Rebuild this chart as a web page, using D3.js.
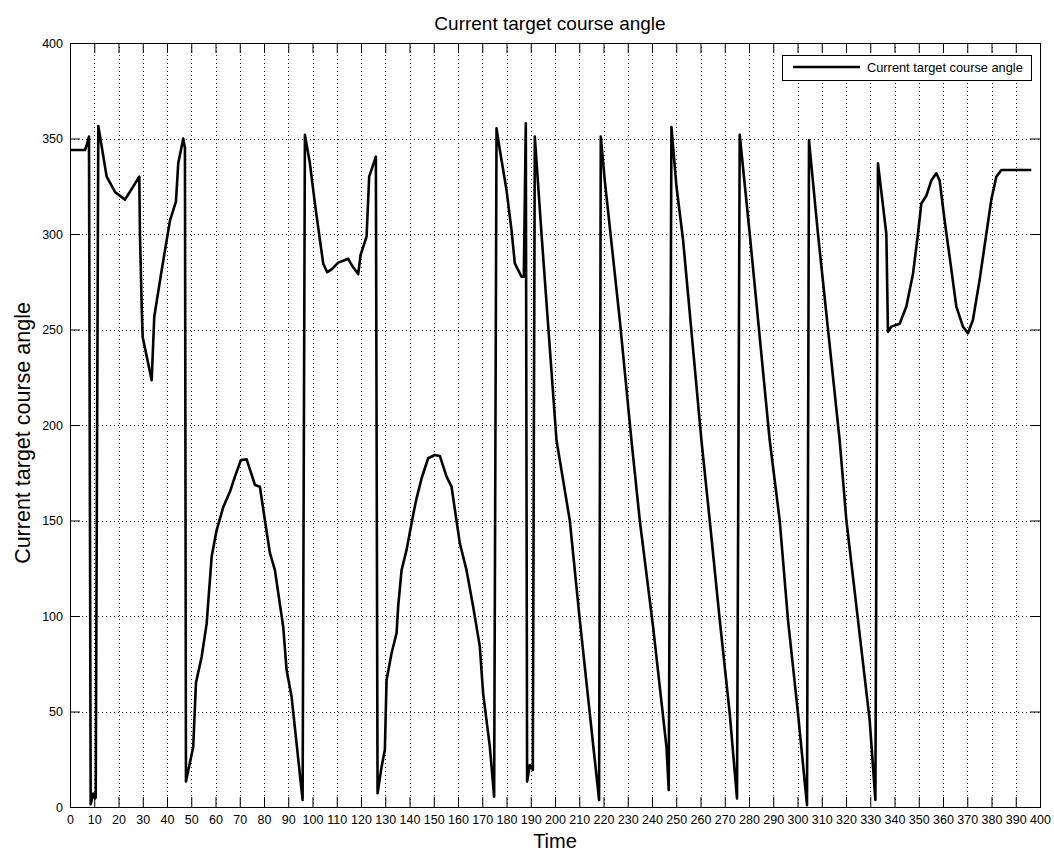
<!DOCTYPE html>
<html>
<head>
<meta charset="utf-8">
<script src="https://cdn.jsdelivr.net/npm/d3@7"></script>
<style>
  html, body { margin: 0; padding: 0; background: #fff; }
  svg { display: block; font-family: Arial, "Liberation Sans", sans-serif; }
</style>
</head>
<body>
<svg id="chart" width="1054" height="856"></svg>
<script>
// Time samples and the target course angle at each sample
const time = [
  0, 6.2, 7.0, 7.83, 8.53, 9.6, 10.3, 10.6, 11.67,
  15.13, 18.55, 22.67, 28.57, 28.85, 29.56, 29.97, 33.68, 34.75, 37.8, 41.22, 43.69, 44.64, 46.7, 47.4, 47.82,
  50.82, 51.94, 54.29, 56.35, 58.41, 60.47, 63.19, 65.95, 68.01, 70.49, 72.84, 76.26, 78.32, 80.38, 82.44, 84.5,
  87.92, 89.32, 91.38, 93.45, 95.92,
  96.87, 98.93, 100.99, 103.05, 104.41, 106.06, 107.87, 110.59, 112.65, 114.72, 116.12, 118.84, 119.83, 122.3, 123.37, 126.13,
  126.83, 128.48, 129.84, 130.54, 132.6, 134.67, 135.33, 136.73, 138.79, 141.51, 142.91, 144.97, 147.69, 150.45, 152.51,
  155.28, 157.34, 160.76, 163.52, 166.24, 169.0, 170.36, 173.12, 174.9,
  175.89, 177.25, 180.01, 182.07, 183.43, 186.19, 187.14, 187.96, 188.5, 189.61, 190.85,
  191.67, 194.44, 200.62, 206.1, 210.22, 214.34, 218.18,
  218.88, 220.53, 226.71, 231.53, 234.96, 240.44, 245.96, 246.91,
  248.02, 250.08, 252.8, 260.39, 263.81, 267.93, 272.05, 275.06,
  276.17, 280.3, 288.54, 292.66, 296.08, 300.21, 303.92,
  304.74, 308.45, 317.39, 320.16, 324.94, 329.76, 332.11,
  333.18, 336.64, 337.3, 338.7, 342.13, 344.89, 347.61, 349.67, 351.07, 353.13, 355.19, 357.25, 358.62,
  360.68, 362.74, 365.5, 368.22, 370.28, 372.34, 375.1, 377.86, 379.93, 381.99, 384.05, 396.41
];
const angle = [
  344, 344, 347, 351, 1.5, 7, 4.5, 5, 356.5,
  330, 322, 318, 330, 300, 262, 246, 223.5, 256.7, 281, 307, 317, 337, 350, 345, 13.3,
  31.6, 65, 78.7, 96, 131, 145, 157, 165, 173, 181.7, 182, 168.6, 167.7, 150, 133, 124,
  94.4, 71.7, 57.7, 33, 3.7,
  352, 337, 316, 297, 284.6, 280, 281.5, 285, 286, 287, 283.8, 279, 289, 298.6, 330, 340.5,
  7.2, 21, 30, 66.5, 80.5, 91, 105, 124, 134.6, 153, 161.6, 172, 182.6, 184.3, 183.8,
  173, 167.7, 138, 124, 105, 84, 59.5, 31.6, 5.4,
  355.3, 344, 323, 302, 284.6, 277.6, 277.6, 358, 13.3, 22, 19.4,
  351, 300, 192, 150, 98, 49, 3.7,
  351, 328, 255, 192, 150, 94.4, 31.6, 8.9,
  356, 325, 297, 192, 150, 98, 49, 4.5,
  352, 300, 192, 150, 98, 49, 1,
  349, 300, 192, 150, 98, 45.5, 3.7,
  337, 300, 248.8, 251.5, 253, 262, 279, 300, 316, 320, 328, 331.8, 328,
  307, 288, 262, 251.5, 248, 255, 276, 300, 318, 330, 333.5, 333.5
];

const xTicks = d3.range(0, 401, 10);
const yTicks = d3.range(0, 401, 50);

const titleText = "Current target course angle";
const xLabelText = "Time";
const yLabelText = "Current target course angle";
const legendText = "Current target course angle";

const svg = d3.select("#chart");
const plot = { left: 70, right: 1040, top: 43, bottom: 807 };
const tickLen = 10;

const x = d3.scaleLinear().domain([0, 400]).range([plot.left, plot.right]);
const y = d3.scaleLinear().domain([0, 400]).range([plot.bottom, plot.top]);

// dotted grid
const grid = svg.append("g").attr("stroke", "#222").attr("stroke-width", 1)
  .attr("stroke-dasharray", "1,3").attr("shape-rendering", "crispEdges");
grid.selectAll("line.gx").data(xTicks.slice(1, -1)).join("line")
  .attr("x1", d => Math.round(x(d)) + 0.5).attr("x2", d => Math.round(x(d)) + 0.5)
  .attr("y1", plot.top).attr("y2", plot.bottom);
grid.selectAll("line.gy").data(yTicks.slice(1, -1)).join("line")
  .attr("y1", d => Math.round(y(d)) + 0.5).attr("y2", d => Math.round(y(d)) + 0.5)
  .attr("x1", plot.left).attr("x2", plot.right);

// axes with inward ticks on all four sides
const bottomAxis = d3.axisBottom(x).tickValues(xTicks).tickSizeInner(-tickLen).tickSizeOuter(0).tickPadding(8);
const topAxis = d3.axisTop(x).tickValues(xTicks).tickSizeInner(-tickLen).tickSizeOuter(0).tickFormat("");
const leftAxis = d3.axisLeft(y).tickValues(yTicks).tickSizeInner(-tickLen).tickSizeOuter(0).tickPadding(7);
const rightAxis = d3.axisRight(y).tickValues(yTicks).tickSizeInner(-tickLen).tickSizeOuter(0).tickFormat("");

function styleAxis(g) {
  g.select(".domain").remove();
  g.selectAll(".tick line").attr("stroke", "#000").attr("stroke-width", 1);
  g.selectAll(".tick text").attr("fill", "#000").attr("font-size", "12.5px")
    .attr("font-family", "Arial, 'Liberation Sans', sans-serif");
}
svg.append("g").attr("transform", `translate(0,${plot.bottom})`).call(bottomAxis).call(styleAxis);
svg.append("g").attr("transform", `translate(0,${plot.top})`).call(topAxis).call(styleAxis);
svg.append("g").attr("transform", `translate(${plot.left},0)`).call(leftAxis).call(styleAxis);
svg.append("g").attr("transform", `translate(${plot.right},0)`).call(rightAxis).call(styleAxis);

// plot frame
svg.append("rect")
  .attr("x", plot.left + 0.5).attr("y", plot.top + 0.5)
  .attr("width", plot.right - plot.left).attr("height", plot.bottom - plot.top)
  .attr("fill", "none").attr("stroke", "#000").attr("stroke-width", 1);

// the course angle trace
const points = time.map((t, i) => [t, angle[i]]);
const line = d3.line().x(d => x(d[0])).y(d => y(d[1]));
svg.append("path").datum(points)
  .attr("d", line)
  .attr("fill", "none").attr("stroke", "#000")
  .attr("stroke-width", 2.6).attr("stroke-linejoin", "round");

// titles
svg.append("text").attr("x", (plot.left + plot.right) / 2 - 5).attr("y", 30)
  .attr("text-anchor", "middle").attr("font-size", "19px").attr("fill", "#000").text(titleText);
svg.append("text").attr("x", (plot.left + plot.right) / 2).attr("y", 848)
  .attr("text-anchor", "middle").attr("font-size", "20px").attr("fill", "#000").text(xLabelText);
svg.append("text").attr("transform", `translate(30,${(plot.top + plot.bottom) / 2 + 8}) rotate(-90)`)
  .attr("text-anchor", "middle").attr("font-size", "21.5px").attr("fill", "#000").text(yLabelText);

// legend
const lg = svg.append("g");
lg.append("rect").attr("x", 782.5).attr("y", 55.5).attr("width", 249).attr("height", 25)
  .attr("fill", "#fff").attr("stroke", "#000").attr("stroke-width", 1);
lg.append("line").attr("x1", 793).attr("x2", 860).attr("y1", 67).attr("y2", 67)
  .attr("stroke", "#000").attr("stroke-width", 2.6);
lg.append("text").attr("x", 867).attr("y", 72).attr("font-size", "12.8px").attr("fill", "#000").text(legendText);
</script>
</body>
</html>
